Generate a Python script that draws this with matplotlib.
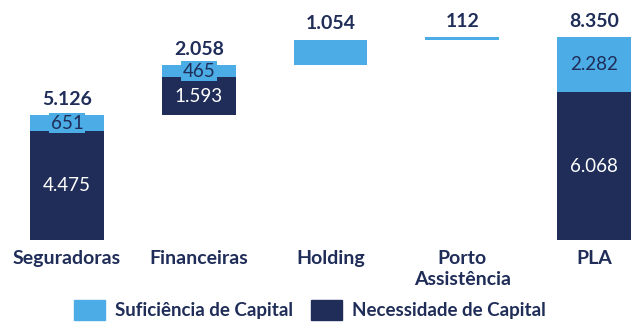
import matplotlib.pyplot as plt
from matplotlib.patches import Patch

plt.rcParams['font.family'] = ['Lato', 'DejaVu Sans']

categorias = ['Seguradoras', 'Financeiras', 'Holding', 'Porto\nAssistência', 'PLA']
necessidade = [4475, 1593, 0, 0, 6068]
suficiencia = [651, 465, 1054, 112, 2282]
totais = ['5.126', '2.058', '1.054', '112', '8.350']
base = [0, 5126, 7184, 8238, 0]

claro = '#4BACE6'
escuro = '#1F2D58'

fig = plt.figure(figsize=(6.39, 3.25), dpi=100)
ax = fig.add_axes([0, 85 / 325, 1, 240 / 325])

x = range(len(categorias))
largura = 0.56
topo_escuro = [b + n for b, n in zip(base, necessidade)]
ax.bar(x, necessidade, largura, bottom=base, color=escuro)
ax.bar(x, suficiencia, largura, bottom=topo_escuro, color=claro)


def fmt(v):
    return f'{v:,}'.replace(',', '.')


for i in x:
    topo = topo_escuro[i] + suficiencia[i]
    ax.text(i, topo + 300, totais[i], ha='center', va='bottom',
            fontsize=14, fontweight='bold', color=escuro)
    if necessidade[i] and i != 2:
        ax.text(i, base[i] + necessidade[i] / 2, fmt(necessidade[i]),
                ha='center', va='center', fontsize=13.5, color='white')
        ax.text(i, topo_escuro[i] + suficiencia[i] / 2, fmt(suficiencia[i]),
                ha='center', va='center', fontsize=13.5, color=escuro,
                bbox=dict(boxstyle='square,pad=0.08', fc=claro, ec='none'))
    ax.text(i, -420, categorias[i], ha='center', va='top', fontsize=14,
            fontweight='bold', color=escuro, linespacing=1.25)

ax.set_xlim(-0.5085, 4.3416)
ax.set_ylim(0, 9873)
ax.axis('off')

handles = [Patch(color=claro, label='Suficiência de Capital'),
           Patch(color=escuro, label='Necessidade de Capital')]
fig.legend(handles=handles, loc='center', bbox_to_anchor=(0.485, 15 / 325), ncol=2,
           frameon=False, handlelength=1.65, handleheight=1.2, columnspacing=1.0,
           handletextpad=0.5, prop=dict(size=13.5, weight='bold'), labelcolor=escuro)

fig.savefig('out.png', dpi=100)
